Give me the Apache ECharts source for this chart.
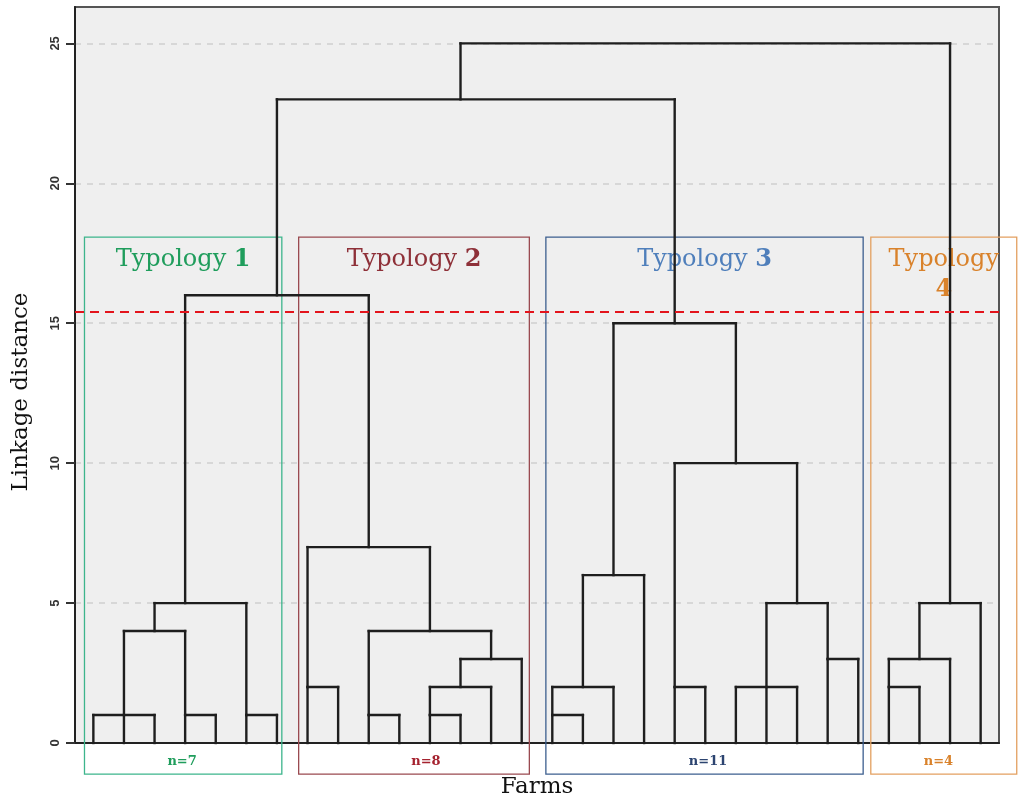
<!DOCTYPE html>
<html><head><meta charset="utf-8">
<script src="https://cdn.jsdelivr.net/npm/echarts@6/dist/echarts.min.js"></script>
<style>html,body{margin:0;padding:0;background:#fff}#c{width:1024px;height:805px}</style>
</head><body><div id="c"></div>
<script>
// ---- data ----
const farms = ['F1','F2','F3','F4','F5','F6','F7','F8','F9','F10','F11','F12','F13','F14','F15',
  'F16','F17','F18','F19','F20','F21','F22','F23','F24','F25','F26','F27','F28','F29','F30'];
// merges: children node ids (leaves 0..29, merge k gets id 30+k), linkage height, leaf position of the rising stem
const mergeChildren = [[0,1,2],[3,4],[30,31],[5,6],[32,33],[7,8],[9,10],[11,12],[37,13],[38,14],[36,39],[35,40],[34,41],
  [15,16],[43,17],[44,18],[19,20],[21,22,23],[24,25],[47,48],[46,49],[45,50],[42,51],[26,27],[53,28],[54,29],[52,55]];
const mergeHeights = [1,1,4,1,5,2,1,1,2,3,4,7,16,1,2,6,2,2,3,5,10,15,23,2,3,5,25];
const mergeStems = [1,3,2,5,3,7,9,11,12,13,11,9,6,15,16,17,19,22,24,23,21,19,12,26,27,28,null];
const cutHeight = [15.4];
const typologyWord = ['Typology','Typology','Typology','Typology'];
const typologyNumber = ['1','2','3','4'];
const typologyCounts = [7,8,11,4];
const yTicks = [0,5,10,15,20,25];

// ---- layout / style ----
const boxX = [[-0.29,6.16],[6.71,14.25],[14.79,25.16],[25.41,30.18]];
const boxTop = 18.08, boxBottom = -1.11, labelTop = 17.8, nLabelY = -0.66;
const nLabelX = [2.9,10.87,20.09,27.62];
const textColors = ['#1f9d5c','#8e3038','#4f7fbb','#d9822b'];
const boxColors = ['#3db58c','#9a4a50','#3d5f8f','#e3a060'];
const nColors = ['#1f9d5c','#a5222f','#2c4470','#d9822b'];
const SERIF = '"DejaVu Serif", serif';

// build dendrogram segments from merge list
const nodeX = [], nodeH = [];
farms.forEach((f, i) => { nodeX[i] = i; nodeH[i] = 0; });
const segs = [];
mergeChildren.forEach((ch, m) => {
  const id = farms.length + m, h = mergeHeights[m];
  const xs = ch.map(c => nodeX[c]);
  ch.forEach(c => segs.push([nodeX[c], nodeH[c], nodeX[c], h]));
  segs.push([Math.min(...xs), h, Math.max(...xs), h]);
  nodeX[id] = mergeStems[m]; nodeH[id] = h;
});

const chart = echarts.init(document.getElementById('c'), null, {renderer: 'canvas'});
chart.setOption({
  backgroundColor: '#ffffff',
  animation: false,
  grid: {left: 75, right: 25, top: 7, bottom: 62, show: true, backgroundColor: '#efefef',
    borderColor: '#555', borderWidth: 2},
  xAxis: {
    type: 'value', min: -0.6, max: 29.6,
    name: 'Farms', nameLocation: 'middle', nameGap: 33,
    nameTextStyle: {fontFamily: SERIF, fontSize: 23, color: '#111'},
    axisLine: {show: true, onZero: false, lineStyle: {color: '#222', width: 2}},
    axisTick: {show: false}, axisLabel: {show: false}, splitLine: {show: false}
  },
  yAxis: {
    type: 'value', min: 0, max: 26.3, interval: 5,
    name: 'Linkage distance', nameLocation: 'middle', nameGap: 42, nameRotate: 90,
    nameTextStyle: {fontFamily: SERIF, fontSize: 23, color: '#111', padding: [0, 34, 0, 0]},
    axisLine: {show: true, onZero: false, lineStyle: {color: '#222', width: 2}},
    axisTick: {show: true, length: 9, lineStyle: {color: '#333', width: 2}, customValues: yTicks},
    axisLabel: {rotate: 90, fontSize: 13, fontWeight: 'bold', color: '#333', margin: 13,
      fontFamily: 'Liberation Sans, Arial, sans-serif', customValues: yTicks},
    splitLine: {show: true, lineStyle: {color: '#d0d0d0', type: [6, 6], width: 1.5}}
  },
  series: [
    {
      type: 'custom', z: 1, clip: false, silent: true,
      data: typologyCounts.map((c, i) => [boxX[i][0], boxTop]),
      renderItem: function (params, api) {
        const i = params.dataIndex;
        const tl = api.coord([boxX[i][0], boxTop]);
        const br = api.coord([boxX[i][1], boxBottom]);
        const ly = api.coord([0, labelTop])[1];
        const ny = api.coord([0, nLabelY])[1];
        const nx = api.coord([nLabelX[i], 0])[0];
        const sep = i === 3 ? '\n' : ' ';
        return {type: 'group', children: [
          {type: 'rect', shape: {x: tl[0], y: tl[1], width: br[0] - tl[0], height: br[1] - tl[1]},
            style: {fill: 'none', stroke: boxColors[i], lineWidth: 1.3}},
          {type: 'text', x: (tl[0] + br[0]) / 2, y: ly,
            style: {text: typologyWord[i] + sep + '{b|' + typologyNumber[i] + '}',
              fill: textColors[i], fontSize: 24, fontFamily: SERIF, align: 'center', verticalAlign: 'top',
              lineHeight: 30,
              rich: {b: {fill: textColors[i], fontSize: 24, fontFamily: SERIF, fontWeight: 'bold', lineHeight: 30}}}},
          {type: 'text', x: nx, y: ny,
            style: {text: 'n=' + typologyCounts[i], fill: nColors[i], fontSize: 13, fontWeight: 'bold',
              fontFamily: SERIF, align: 'center', verticalAlign: 'middle'}}
        ]};
      }
    },
    {
      type: 'custom', z: 3, silent: true,
      data: segs,
      encode: {x: [0, 2], y: [1, 3]},
      renderItem: function (params, api) {
        const p1 = api.coord([api.value(0), api.value(1)]);
        const p2 = api.coord([api.value(2), api.value(3)]);
        return {type: 'line', shape: {x1: p1[0], y1: p1[1], x2: p2[0], y2: p2[1]},
          style: {stroke: '#1e1e1e', lineWidth: 2.4, lineCap: 'square'}};
      }
    },
    {
      type: 'line', z: 4, data: [], silent: true,
      markLine: {symbol: 'none', silent: true, label: {show: false},
        lineStyle: {color: '#e3141c', width: 2, type: [9, 6]},
        data: cutHeight.map(v => ({yAxis: v}))}
    }
  ]
});
</script></body></html>
